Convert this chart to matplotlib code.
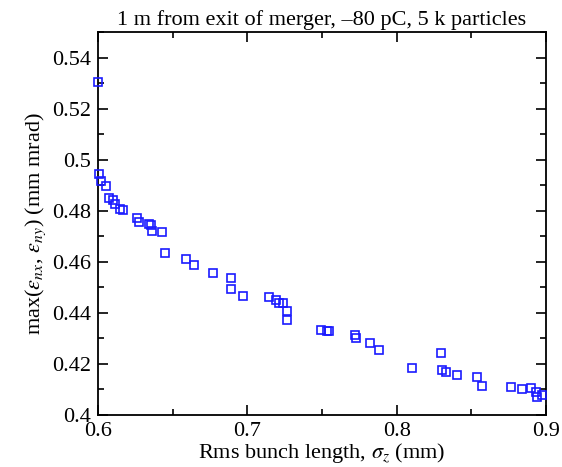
import matplotlib.pyplot as plt
from matplotlib.ticker import MultipleLocator

# -----------------------
# Data
# -----------------------
sigma_z = [
    0.600, 0.6007, 0.602, 0.6054, 0.6074, 0.610, 0.6114, 0.6147, 0.6167,
    0.626, 0.6275, 0.634, 0.6355, 0.636, 0.643, 0.645, 0.659, 0.6643,
    0.677, 0.689, 0.689, 0.697, 0.7145, 0.719, 0.721, 0.724, 0.7266,
    0.7266, 0.7491, 0.7531, 0.7545, 0.7719, 0.7726, 0.7824, 0.7884,
    0.8105, 0.8297, 0.8306, 0.8330, 0.8404, 0.8536, 0.8573, 0.8763,
    0.8839, 0.8897, 0.8933, 0.8938, 0.8973,
]
max_emit = [
    0.5305, 0.4945, 0.4918, 0.4895, 0.4848, 0.4844, 0.4828, 0.4805, 0.4801,
    0.4770, 0.4754, 0.4750, 0.4746, 0.4719, 0.4715, 0.4633, 0.4610, 0.4586,
    0.4555, 0.4535, 0.4492, 0.4465, 0.4461, 0.4449, 0.4438, 0.4438, 0.4406,
    0.4371, 0.4332, 0.4329, 0.4328, 0.4315, 0.4301, 0.4284, 0.4254,
    0.4186, 0.4243, 0.4178, 0.4168, 0.4155, 0.4148, 0.4115, 0.4108,
    0.4102, 0.4105, 0.4091, 0.4072, 0.4078,
]

x_ticks = [0.6, 0.7, 0.8, 0.9]
x_labels = ["0.6", "0.7", "0.8", "0.9"]
y_ticks = [0.4, 0.42, 0.44, 0.46, 0.48, 0.5, 0.52, 0.54]
y_labels = ["0.4", "0.42", "0.44", "0.46", "0.48", "0.5", "0.52", "0.54"]

# -----------------------
# Style
# -----------------------
plt.rcParams["font.family"] = ["Liberation Serif", "DejaVu Serif"]
plt.rcParams["mathtext.fontset"] = "stix"
plt.rcParams["font.size"] = 16

fig = plt.figure(figsize=(5.62, 4.67), dpi=100, facecolor="white")
ax = fig.add_axes([0.1744, 0.1113, 0.7971, 0.8202])

ax.plot(
    sigma_z,
    max_emit,
    linestyle="none",
    marker="s",
    markersize=6.3,
    markerfacecolor="none",
    markeredgecolor="#1a1aff",
    markeredgewidth=1.2,
    clip_on=False,
    zorder=3
)

ax.set_xlim(0.6, 0.9)
ax.set_ylim(0.4, 0.55)
ax.set_xticks(x_ticks)
ax.set_xticklabels(x_labels)
ax.set_yticks(y_ticks)
ax.set_yticklabels(y_labels)
ax.xaxis.set_minor_locator(MultipleLocator(0.05))
ax.yaxis.set_minor_locator(MultipleLocator(0.01))

ax.tick_params(which="both", direction="in", top=True, right=True,
               width=1.2, labelsize=16, pad=5)
ax.tick_params(which="major", length=7)
ax.tick_params(which="minor", length=4)

for sp in ax.spines.values():
    sp.set_linewidth(1.3)

ax.set_xlabel(r"Rms bunch length, $\sigma_z$ (mm)", fontsize=16, labelpad=0)
ax.set_ylabel(r"max($\varepsilon_{nx}$, $\varepsilon_{ny}$) (mm mrad)",
              fontsize=16, labelpad=3)
ax.set_title("1 m from exit of merger, \u201380 pC, 5 k particles",
             fontsize=16, pad=5)

fig.savefig("out.png", dpi=100, facecolor="white")
plt.close(fig)
